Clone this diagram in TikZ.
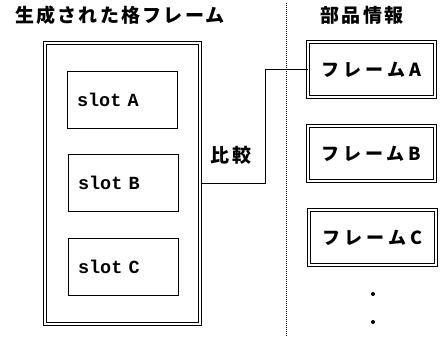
\documentclass[tikz,border=0pt]{standalone}
\usepackage{fontspec}
\newfontfamily\jp{Noto Sans CJK JP}
\newfontfamily\mono{Liberation Mono}
\begin{document}
\begin{tikzpicture}[x=1pt,y=-1pt,
  dbl/.style={draw, double, line width=1pt, double distance=2pt},
  slotbox/.style={draw, line width=1pt, minimum width=110pt, minimum height=57pt,
    text width=90pt, align=left, inner xsep=10pt, inner ysep=0pt,
    font=\mono\bfseries\fontsize{18.5}{20}\selectfont},
  framebox/.style={dbl, minimum width=127pt, minimum height=55pt, inner sep=0pt,
    font=\jp\bfseries\fontsize{18}{20}\selectfont\addfontfeature{LetterSpace=22}},
  head/.style={inner sep=0pt, font=\jp\bfseries\fontsize{19}{20}\selectfont\addfontfeature{LetterSpace=12}},
  dot/.style={circle, fill, inner sep=0pt, minimum size=4pt}]
\useasboundingbox (0,0) rectangle (444,337);
% headings
\node[head] (t1) at (120,15) {生成された格フレーム};
\node[head] (t2) at (362,15) {部品情報};
% divider
\coordinate (dtop) at (286,3);
\coordinate (dbot) at (286,337);
\draw[line width=0.8pt, dash pattern=on 1pt off 1pt] (dtop) -- (dbot);
% generated frame
\node[dbl, minimum width=155pt, minimum height=281pt, inner sep=0pt] (gen) at (122.5,183.5) {};
\node[slotbox] (sA) at (122,99.5) {slot A};
\node[slotbox] (sB) at (123,183) {slot B};
\node[slotbox] (sC) at (123,266.5) {slot C};
% part info frames
\node[framebox] (fA) at (371.5,69.5) {フレームA};
\node[framebox] (fB) at (371.5,153.5) {フレームB};
\node[framebox] (fC) at (372.5,237.5) {フレームC};
\node[dot] (d1) at (373,294) {};
\node[dot] (d2) at (373,322) {};
% comparison
\node[inner sep=0pt, font=\jp\bfseries\fontsize{19}{20}\selectfont\addfontfeature{LetterSpace=12}] (cmp) at (231,155) {比較};
\coordinate (bend) at (265,0);
\draw[line width=1pt] (gen.east) -- (gen.east -| bend) |- (fA.west);
\end{tikzpicture}
\end{document}
